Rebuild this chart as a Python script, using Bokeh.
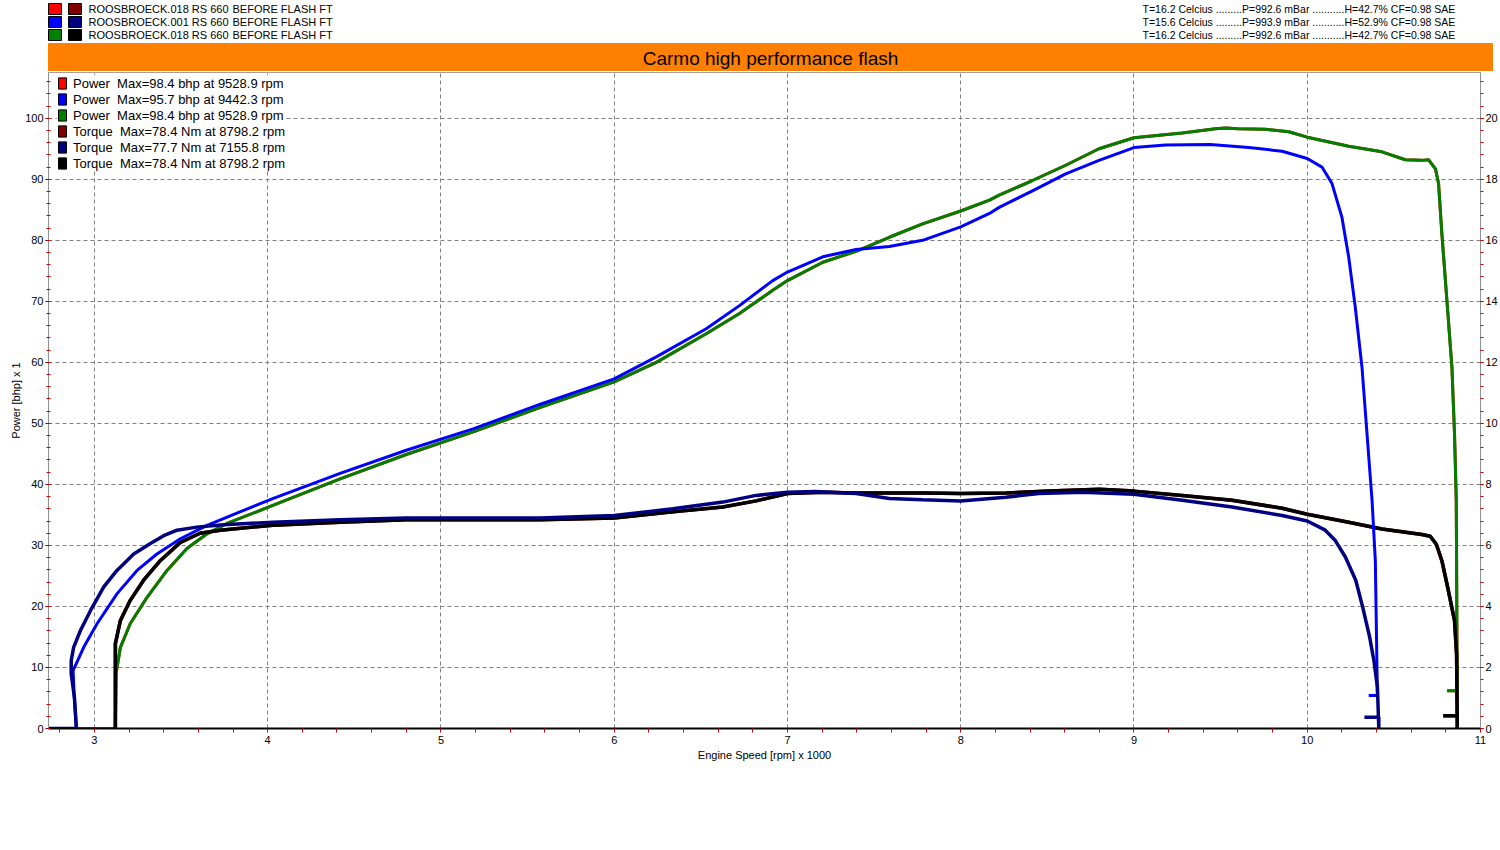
from bokeh.plotting import figure
from bokeh.models import (Range1d, LinearAxis, SingleIntervalTicker, Legend,
                          LegendItem)
from bokeh.layouts import column
from bokeh.embed import file_html
from bokeh.resources import INLINE
from bokeh.core.properties import value

FONT = "Liberation Sans"
NAN = float("nan")

# ---------------- data ----------------
chart_title = "Carmo high performance flash"
run_files = ["ROOSBROECK.018 RS 660", "ROOSBROECK.001 RS 660", "ROOSBROECK.018 RS 660"]
run_notes = ["BEFORE FLASH FT", "BEFORE FLASH FT", "BEFORE FLASH FT"]
run_conditions = [
    "T=16.2 Celcius .........P=992.6 mBar ...........H=42.7% CF=0.98 SAE",
    "T=15.6 Celcius .........P=993.9 mBar ...........H=52.9% CF=0.98 SAE",
    "T=16.2 Celcius .........P=992.6 mBar ...........H=42.7% CF=0.98 SAE",
]
power_colors = ["#FF0000", "#0000FF", "#008000"]
torque_colors = ["#800000", "#000080", "#000000"]
legend_labels = [
    "Power  Max=98.4 bhp at 9528.9 rpm",
    "Power  Max=95.7 bhp at 9442.3 rpm",
    "Power  Max=98.4 bhp at 9528.9 rpm",
    "Torque  Max=78.4 Nm at 8798.2 rpm",
    "Torque  Max=77.7 Nm at 7155.8 rpm",
    "Torque  Max=78.4 Nm at 8798.2 rpm",
]

# run .018 (engine speed in rpm x 1000)
rpm_018_power = [2.735, 3.121, 3.125, 3.15, 3.207, 3.304, 3.419, 3.534, 3.65, 3.765,
                 4.033, 4.418, 4.80, 5.186, 5.57, 6.0, 6.243, 6.531, 6.723, 6.915,
                 7.0, 7.204, 7.396, 7.588, 7.78, 8.0, 8.166, 8.222, 8.414, 8.606,
                 8.798, 9.0, 9.278, 9.47, 9.53, 9.6, 9.759, 9.893, 10.0, 10.239,
                 10.431, 10.566, 10.662, 10.70, 10.74, 10.758, 10.777, 10.806, 10.835, 10.85,
                 10.86, 10.862, 10.865, 10.808]
power_018 = [0, 0, 9.0, 13.3, 17.2, 21.5, 25.9, 29.5, 31.9, 33.6,
             36.6, 40.9, 44.9, 48.6, 52.6, 56.8, 60.0, 64.7, 68.0, 71.8,
             73.4, 76.4, 78.2, 80.5, 82.7, 84.8, 86.6, 87.4, 89.8, 92.3,
             95.0, 96.8, 97.6, 98.3, 98.4, 98.3, 98.2, 97.8, 96.9, 95.4,
             94.5, 93.2, 93.1, 93.2, 91.7, 89.3, 81.1, 70.2, 59.2, 48.3,
             37.4, 27.5, 6.2, 6.2]

rpm_018_torque = [3.121, 3.121, 3.15, 3.207, 3.284, 3.38, 3.496, 3.61, 3.726, 4.03,
                  4.418, 4.80, 5.57, 6.0, 6.339, 6.627, 6.819, 7.0, 7.204, 7.396,
                  7.78, 8.0, 8.26, 8.51, 8.8, 9.0, 9.278, 9.566, 9.855, 10.0,
                  10.239, 10.431, 10.662, 10.71, 10.745, 10.777, 10.81, 10.85, 10.862, 10.866,
                  10.866, 10.785]
torque_018 = [0, 27.8, 35.4, 42.0, 48.6, 55.0, 61.0, 64.0, 65.0, 66.6,
              67.6, 68.4, 68.4, 69.0, 71.0, 72.6, 74.6, 77.0, 77.4, 77.2,
              77.2, 77.0, 77.2, 77.8, 78.4, 77.8, 76.4, 74.8, 72.2, 70.2,
              67.6, 65.4, 63.6, 63.0, 60.4, 55.0, 46.4, 35.4, 24.4, 0,
              4.2, 4.2]

# run .001
rpm_001_power = [2.896, 2.884, 2.877, 2.938, 3.016, 3.131, 3.246, 3.361, 3.496, 3.65,
                 3.84, 4.033, 4.418, 4.80, 5.186, 5.57, 6.0, 6.243, 6.531, 6.723,
                 6.915, 7.0, 7.204, 7.396, 7.588, 7.78, 8.0, 8.166, 8.222, 8.414,
                 8.606, 8.798, 9.0, 9.182, 9.44, 9.663, 9.855, 10.0, 10.085, 10.143,
                 10.2, 10.239, 10.277, 10.316, 10.345, 10.374, 10.393, 10.405, 10.355]
power_001 = [0, 5.0, 9.5, 13.3, 17.2, 22.1, 25.9, 28.6, 31.1, 33.3,
             35.5, 37.7, 41.8, 45.6, 49.1, 53.1, 57.3, 60.9, 65.5, 69.3,
             73.4, 74.8, 77.3, 78.5, 79.0, 80.0, 82.2, 84.4, 85.4, 88.1,
             90.9, 93.1, 95.2, 95.6, 95.7, 95.2, 94.6, 93.4, 92.0, 89.3,
             83.8, 77.3, 69.1, 59.2, 48.3, 37.4, 27.5, 5.4, 5.4]

rpm_001_torque = [2.735, 2.896, 2.885, 2.866, 2.866, 2.88, 2.92, 2.977, 3.054, 3.13,
                  3.227, 3.323, 3.40, 3.477, 3.59, 3.745, 4.03, 4.418, 4.80, 5.57,
                  6.0, 6.339, 6.627, 6.819, 7.0, 7.16, 7.396, 7.588, 7.78, 8.0,
                  8.26, 8.452, 8.702, 9.0, 9.278, 9.566, 9.855, 10.0, 10.104, 10.162,
                  10.22, 10.28, 10.32, 10.36, 10.385, 10.405, 10.413, 10.413, 10.33]
torque_001 = [0, 0, 10.0, 18.0, 22.2, 26.6, 32.2, 38.6, 46.4, 51.8,
              57.2, 60.6, 63.2, 65.0, 66.0, 66.8, 67.6, 68.4, 69.0, 69.0,
              69.8, 72.0, 74.2, 76.4, 77.4, 77.7, 77.0, 75.4, 75.0, 74.6,
              75.8, 77.0, 77.4, 76.8, 74.8, 72.6, 69.8, 68.0, 65.0, 61.6,
              56.2, 48.6, 39.8, 30.0, 22.2, 13.6, 0, 3.7, 3.7]

# torque is drawn on the "Nm x 10" scale
torque_scale = 10.0

# ---------------- layout constants ----------------
W = 1500
HEADER_H = 71
FRAME_TOP = 1
FRAME_H = 656
BOTTOM = 40

# ---------------- header ----------------
header = figure(width=W, height=HEADER_H, x_range=Range1d(0, W),
                y_range=Range1d(HEADER_H, 0), toolbar_location=None,
                output_backend="svg", x_axis_location=None, y_axis_location=None,
                min_border=0, outline_line_color=None)
header.frame_align = False
header.grid.visible = False
rows = [8.5, 21.5, 34.5]
header.rect(x=[54.5] * 3, y=rows, width=13, height=11, fill_color=power_colors,
            line_color="black", line_width=1)
header.rect(x=[74.5] * 3, y=rows, width=13, height=11, fill_color=torque_colors,
            line_color="black", line_width=1)
header.text(x=[88] * 3, y=rows, text=run_files, text_font=value(FONT),
            text_font_size="11px", text_baseline="middle", text_color="black")
header.text(x=[232] * 3, y=rows, text=run_notes, text_font=value(FONT),
            text_font_size="11px", text_baseline="middle", text_color="black")
header.text(x=[1142] * 3, y=rows, text=run_conditions, text_font=value(FONT),
            text_font_size="10.5px", text_baseline="middle", text_color="black")
header.quad(left=[48], right=[1492], top=[43], bottom=[71],
            fill_color="#FF8000", line_color="#FF8000")
header.text(x=[770], y=[57.5], text=[chart_title], text_font=value(FONT),
            text_font_size="19px", text_align="center", text_baseline="middle",
            text_color="black")

# ---------------- main chart ----------------
main = figure(width=W, height=FRAME_TOP + FRAME_H + BOTTOM,
              x_range=Range1d(2.735, 11.0), y_range=Range1d(0, 107.5),
              toolbar_location=None, output_backend="svg",
              min_border_left=48, min_border_right=20,
              min_border_top=FRAME_TOP, min_border_bottom=BOTTOM,
              outline_line_color="#A0A0A0")
main.frame_align = False
main.extra_y_ranges = {"torque": Range1d(0, 21.5)}

main.xgrid.grid_line_color = "#808080"
main.ygrid.grid_line_color = "#808080"
main.xgrid.grid_line_dash = "4 3"
main.ygrid.grid_line_dash = "4 3"

xa = main.xaxis[0]
xa.ticker = SingleIntervalTicker(interval=1, num_minor_ticks=5)
xa.axis_label = "Engine Speed [rpm] x 1000"
xa.axis_line_color = "black"
xa.axis_line_width = 2
xa.major_tick_out = 3
xa.major_tick_in = 0
xa.major_tick_line_color = "black"
xa.minor_tick_out = 4
xa.minor_tick_in = 0
xa.minor_tick_line_color = "#D00000"
xa.major_label_standoff = 3
xa.axis_label_standoff = 2

ya = main.yaxis[0]
ya.ticker = SingleIntervalTicker(interval=10, num_minor_ticks=5)
ya.axis_label = "Power [bhp] x 1"
ya.axis_line_color = "#909090"
ya.major_tick_out = 3
ya.major_tick_in = 0
ya.major_tick_line_color = "black"
ya.minor_tick_out = 2
ya.minor_tick_in = 2
ya.minor_tick_line_color = "#D00000"
ya.major_label_standoff = 2
ya.axis_label_standoff = 0

ra = LinearAxis(y_range_name="torque",
                ticker=SingleIntervalTicker(interval=2, num_minor_ticks=5))
ra.axis_line_color = "#909090"
ra.major_tick_out = 3
ra.major_tick_in = 0
ra.major_tick_line_color = "black"
ra.minor_tick_out = 3
ra.minor_tick_in = 0
ra.minor_tick_line_color = "#D00000"
ra.major_label_standoff = 2
main.add_layout(ra, "right")

for ax in (xa, ya, ra):
    ax.major_label_text_font = FONT
    ax.major_label_text_font_size = "11px"
    ax.major_label_text_color = "black"
    ax.axis_label_text_font = FONT
    ax.axis_label_text_font_size = "11px"
    ax.axis_label_text_font_style = "normal"
    ax.axis_label_text_color = "black"

t018 = [v / torque_scale for v in torque_018]
t001 = [v / torque_scale for v in torque_001]

# run 1 (.018) red / dark red, hidden below identical run 3 curves
main.line(rpm_018_power, power_018, line_color=power_colors[0], line_width=3)
main.line(rpm_018_torque, t018, line_color=torque_colors[0], line_width=3.5,
          y_range_name="torque")
# run 3 (.018) green / black
main.line(rpm_018_power, power_018, line_color=power_colors[2], line_width=3)
main.line(rpm_018_torque, t018, line_color=torque_colors[2], line_width=3.5,
          y_range_name="torque")
# run 2 (.001) blue / navy
main.line(rpm_001_power, power_001, line_color=power_colors[1], line_width=3)
main.line(rpm_001_torque, t001, line_color=torque_colors[1], line_width=3.5,
          y_range_name="torque")

# legend swatches (proxy glyphs with no drawable point)
swatch_colors = power_colors + torque_colors
items = []
for lab, col in zip(legend_labels, swatch_colors):
    r = main.rect(x=[NAN], y=[NAN], width=0.1, height=0.1, fill_color=col,
                  line_color="black", line_width=1)
    items.append(LegendItem(label=lab, renderers=[r]))

ROW_H = 16
legend = Legend(items=items,
                location=(9, FRAME_H - 3 - ROW_H * len(items)),
                padding=0, margin=0,
                spacing=0, label_height=ROW_H, glyph_width=10, glyph_height=14,
                label_standoff=6, label_text_font=FONT,
                label_text_font_size="13px", label_text_color="black",
                border_line_color=None, background_fill_color="white",
                background_fill_alpha=1.0)
main.add_layout(legend)

layout = column(header, main, spacing=0)

with open("out.html", "w") as f:
    f.write(file_html(layout, INLINE))
